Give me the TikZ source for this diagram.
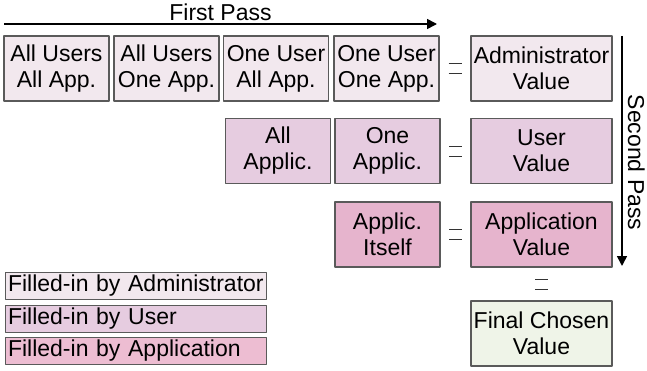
\documentclass[tikz,border=0pt]{standalone}
\usepackage{fontspec}
\setmainfont{Liberation Sans}
\usetikzlibrary{arrows.meta,calc}
\definecolor{admincol}{HTML}{F2E8EE}
\definecolor{usercol}{HTML}{E6CCE0}
\definecolor{appcol}{HTML}{E6B4CD}
\definecolor{legappcol}{HTML}{EDBDD2}
\definecolor{finalcol}{HTML}{EFF4E8}
\definecolor{boxline}{HTML}{5A5A5A}
\tikzset{
	cell/.style={draw=boxline, line width=1.1pt, minimum width=105pt, minimum height=65pt,
		inner sep=0pt, align=center, font=\fontsize{23}{26}\selectfont},
	widecell/.style={cell, minimum width=141pt},
	legendbox/.style={draw=boxline, line width=1.1pt, anchor=west, text width=256pt, inner sep=2.5pt,
		minimum height=24pt, align=left, font=\fontsize{23}{26}\selectfont},
	eqline/.style={line width=0.8pt, draw=black!80},
	pass/.style={line width=1.6pt, -{Triangle[length=10pt,width=10pt]}},
}
\begin{document}
\begin{tikzpicture}[x=1pt, y=-1pt, line join=round]
	\useasboundingbox (0,0) rectangle (647,371);
	\def\ra{68.5} \def\rb{151} \def\rc{234.5}
	% first row
	\node[cell, fill=admincol] (a1) at (56.5,\ra) {All Users\\All App.};
	\node[cell, fill=admincol] (a2) at (166.5,\ra) {All Users\\One App.};
	\node[cell, fill=admincol] (a3) at (276,\ra) {One User\\All App.};
	\node[cell, fill=admincol] (a4) at (386.5,\ra) {One User\\One App.};
	\node[widecell, fill=admincol] (admin) at (541.5,\ra) {Administrator\\Value};
	% second row
	\node[cell, fill=usercol] (b1) at (278,\rb) {All\\Applic.};
	\node[cell, fill=usercol] (b2) at (387.5,\rb) {One\\Applic.};
	\node[widecell, fill=usercol] (user) at (541.5,\rb) {User\\Value};
	% third row
	\node[cell, fill=appcol] (c1) at (387.5,\rc) {Applic.\\Itself};
	\node[widecell, fill=appcol] (appval) at (541.5,\rc) {Application\\Value};
	\node[widecell, fill=finalcol] (final) at (541.5,333.5) {Final Chosen\\Value};
	% legend
	\node[legendbox, fill=admincol] (leg1) at (5,286) {Filled-in by Administrator};
	\node[legendbox, fill=usercol] (leg2) at (5,319) {Filled-in by User};
	\node[legendbox, fill=legappcol] (leg3) at (5,351) {Filled-in by Application};
	% equal signs
	\coordinate (eq1) at ($(a4.east)!.5!(admin.west)$);
	\coordinate (eq2) at ($(b2.east)!.5!(user.west)$);
	\coordinate (eq3) at ($(c1.east)!.5!(appval.west)$);
	\coordinate (eq4) at ($(appval.south)!.5!(final.north)$);
	\foreach \e in {eq1,eq2,eq3,eq4}
		\draw[eqline] ($(\e)+(-6.5,-5)$) -- ++(13,0) ($(\e)+(-6.5,5)$) -- ++(13,0);
	% passes
	\coordinate (fp1) at (4,24);
	\coordinate (fp2) at (437,24);
	\draw[pass] (fp1) -- node[above, inner sep=2pt, font=\fontsize{23}{26}\selectfont] {First Pass} (fp2);
	\coordinate (sp1) at (622,36);
	\coordinate (sp2) at (622,266);
	\draw[pass] (sp1) -- node[pos=.55, rotate=-90, anchor=south, inner sep=5pt, font=\fontsize{23}{26}\selectfont] {Second Pass} (sp2);
\end{tikzpicture}
\end{document}
